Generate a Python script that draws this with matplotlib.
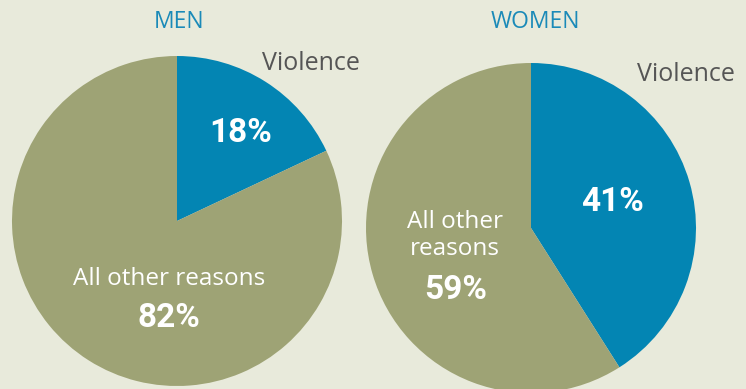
import matplotlib.pyplot as plt

# Reasons for leaving, share of respondents (%)
groups = ['MEN', 'WOMEN']
violence = [18, 41]
other = [82, 59]

BG = '#e8eadb'
BLUE = '#0385b3'
OLIVE = '#9ea375'
TITLE = '#1a8ab8'
GREY = '#555555'

W, H = 746, 389


def py(y):
    # pixel row (from top) -> data y
    return H - y


def main():
    plt.rcParams['font.family'] = ['Open Sans', 'DejaVu Sans']
    fig = plt.figure(figsize=(W / 100, H / 100), dpi=100, facecolor=BG)
    ax = fig.add_axes([0, 0, 1, 1])
    ax.set_facecolor(BG)

    centers = [(177, py(221)), (531, py(228))]
    radius = 165
    for c, v, o in zip(centers, violence, other):
        ax.pie([v, o], colors=[BLUE, OLIVE], startangle=90, counterclock=False,
               center=c, radius=radius, wedgeprops=dict(linewidth=0))

    ax.set_xlim(0, W)
    ax.set_ylim(0, H)
    ax.set_aspect('equal')
    ax.axis('off')

    big = dict(color='white', fontsize=24, fontweight='bold', family='Roboto',
               ha='center', va='center')
    lab = dict(color='white', fontsize=17.5, ha='center', va='center')

    # titles
    ax.text(179, py(22), groups[0], color=TITLE, fontsize=16.5, ha='center', va='center')
    ax.text(535, py(22), groups[1], color=TITLE, fontsize=16.5, ha='center', va='center')

    # men
    ax.text(311, py(63), 'Violence', color=GREY, fontsize=18, ha='center', va='center')
    ax.text(241, py(133), f'{violence[0]}%', **big)
    ax.text(169, py(279), 'All other reasons', **lab)
    ax.text(169, py(318), f'{other[0]}%', **big)

    # women
    ax.text(686, py(74), 'Violence', color=GREY, fontsize=18, ha='center', va='center')
    ax.text(612, py(202), f'{violence[1]}%', **big)
    ax.text(455, py(222), 'All other', **lab)
    ax.text(455, py(249), 'reasons', **lab)
    ax.text(456, py(290), f'{other[1]}%', **big)

    fig.savefig('out.png', dpi=100, facecolor=BG)


if __name__ == "__main__":
    main()
